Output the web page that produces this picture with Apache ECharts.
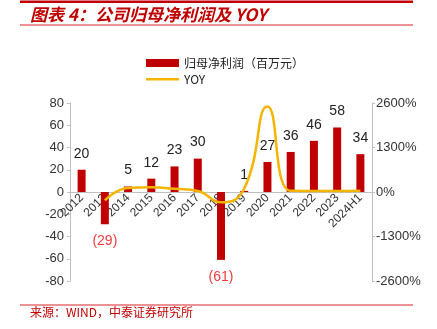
<!DOCTYPE html>
<html><head><meta charset="utf-8">
<script src="https://cdn.jsdelivr.net/npm/echarts@6/dist/echarts.min.js"></script>
<style>html,body{margin:0;padding:0;background:#fff}#c{width:437px;height:329px}</style>
</head><body><div id="c"></div>
<script>
var categories = ['2012','2013','2014','2015','2016','2017','2018','2019','2020','2021','2022','2023','2024H1'];
var profit = [20,-29,5,12,23,30,-61,1,27,36,46,58,34];
var yoy = [null,-245,120,140,92,30,-303,100,2500,33,28,26,40];
var leftTicks = {min:-80,max:80,interval:20};
var rightTicks = {min:-2600,max:2600,interval:1300};

var chart = echarts.init(document.getElementById('c'), null, {renderer:'canvas'});
var cjk = '"Noto Sans CJK SC", "Liberation Sans", Arial, sans-serif';
var axisGray = '#bfbfbf';
var gridTop = 103, gridBottom = 48, gridH = 329 - gridTop - gridBottom;
chart.setOption({
  animation:false,
  textStyle:{fontFamily:'"Liberation Sans", Arial, sans-serif'},
  graphic:[
    {type:'rect',shape:{x:20,y:0.5,width:393,height:2.5},style:{fill:'#C00000'}},
    {type:'text',left:30,top:6,style:{text:'图表 4：公司归母净利润及 YOY',fill:'#C00000',font:'italic bold 17px '+cjk}},
    {type:'rect',shape:{x:20,y:24.5,width:393,height:1},style:{fill:'#D9262B'}},
    {type:'rect',shape:{x:20,y:304.5,width:393,height:1},style:{fill:'#D9262B'}},
    {type:'text',left:30,top:306,style:{text:'来源：WIND，中泰证券研究所',fill:'#C00000',font:'12px '+cjk}}
  ],
  legend:{
    orient:'vertical',left:141,top:51,itemWidth:33,itemHeight:8,itemGap:2,
    textStyle:{fontSize:12,color:'#222',fontFamily:cjk,lineHeight:14},
    data:[
      {name:'归母净利润（百万元）',icon:'rect'},
      {name:'YOY',icon:'path://M0,3h33v2.5h-33zM0,0h0.01v8h-0.01z'}
    ]
  },
  grid:{left:70,right:65,top:gridTop,bottom:gridBottom},
  xAxis:{
    type:'category',data:categories,
    offset:-gridH/2,
    axisLine:{onZero:false,lineStyle:{color:axisGray,width:1}},
    axisTick:{show:false},
    axisLabel:{rotate:45,fontSize:12,color:'#333',margin:4,interval:0}
  },
  yAxis:[
    {type:'value',min:leftTicks.min,max:leftTicks.max,interval:leftTicks.interval,
     axisLine:{show:true,lineStyle:{color:axisGray}},axisTick:{show:true,length:3,lineStyle:{color:axisGray}},
     splitLine:{show:false},axisLabel:{fontSize:13,color:'#333',margin:6}},
    {type:'value',min:rightTicks.min,max:rightTicks.max,interval:rightTicks.interval,position:'right',
     axisLine:{show:true,lineStyle:{color:axisGray}},axisTick:{show:true,length:3,lineStyle:{color:axisGray}},
     splitLine:{show:false},axisLabel:{fontSize:13,color:'#333',margin:4,formatter:function(v){return v+'%';}}}
  ],
  series:[
    {name:'归母净利润（百万元）',type:'bar',barWidth:8,itemStyle:{color:'#C00000'},
     data:profit.map(function(v){
       return {value:v,label:v<0?{position:'bottom',color:'#F23C3C',distance:10}:{position:'top',color:'#222',distance:9}};
     }),
     label:{show:true,fontSize:14,formatter:function(p){return p.value<0?'('+Math.abs(p.value)+')':String(p.value);}}
    },
    {name:'YOY',type:'line',yAxisIndex:1,smooth:0.5,symbol:'none',connectNulls:false,
     lineStyle:{color:'#F5B400',width:2.5},itemStyle:{color:'#F5B400'},data:yoy}
  ]
});
</script></body></html>
